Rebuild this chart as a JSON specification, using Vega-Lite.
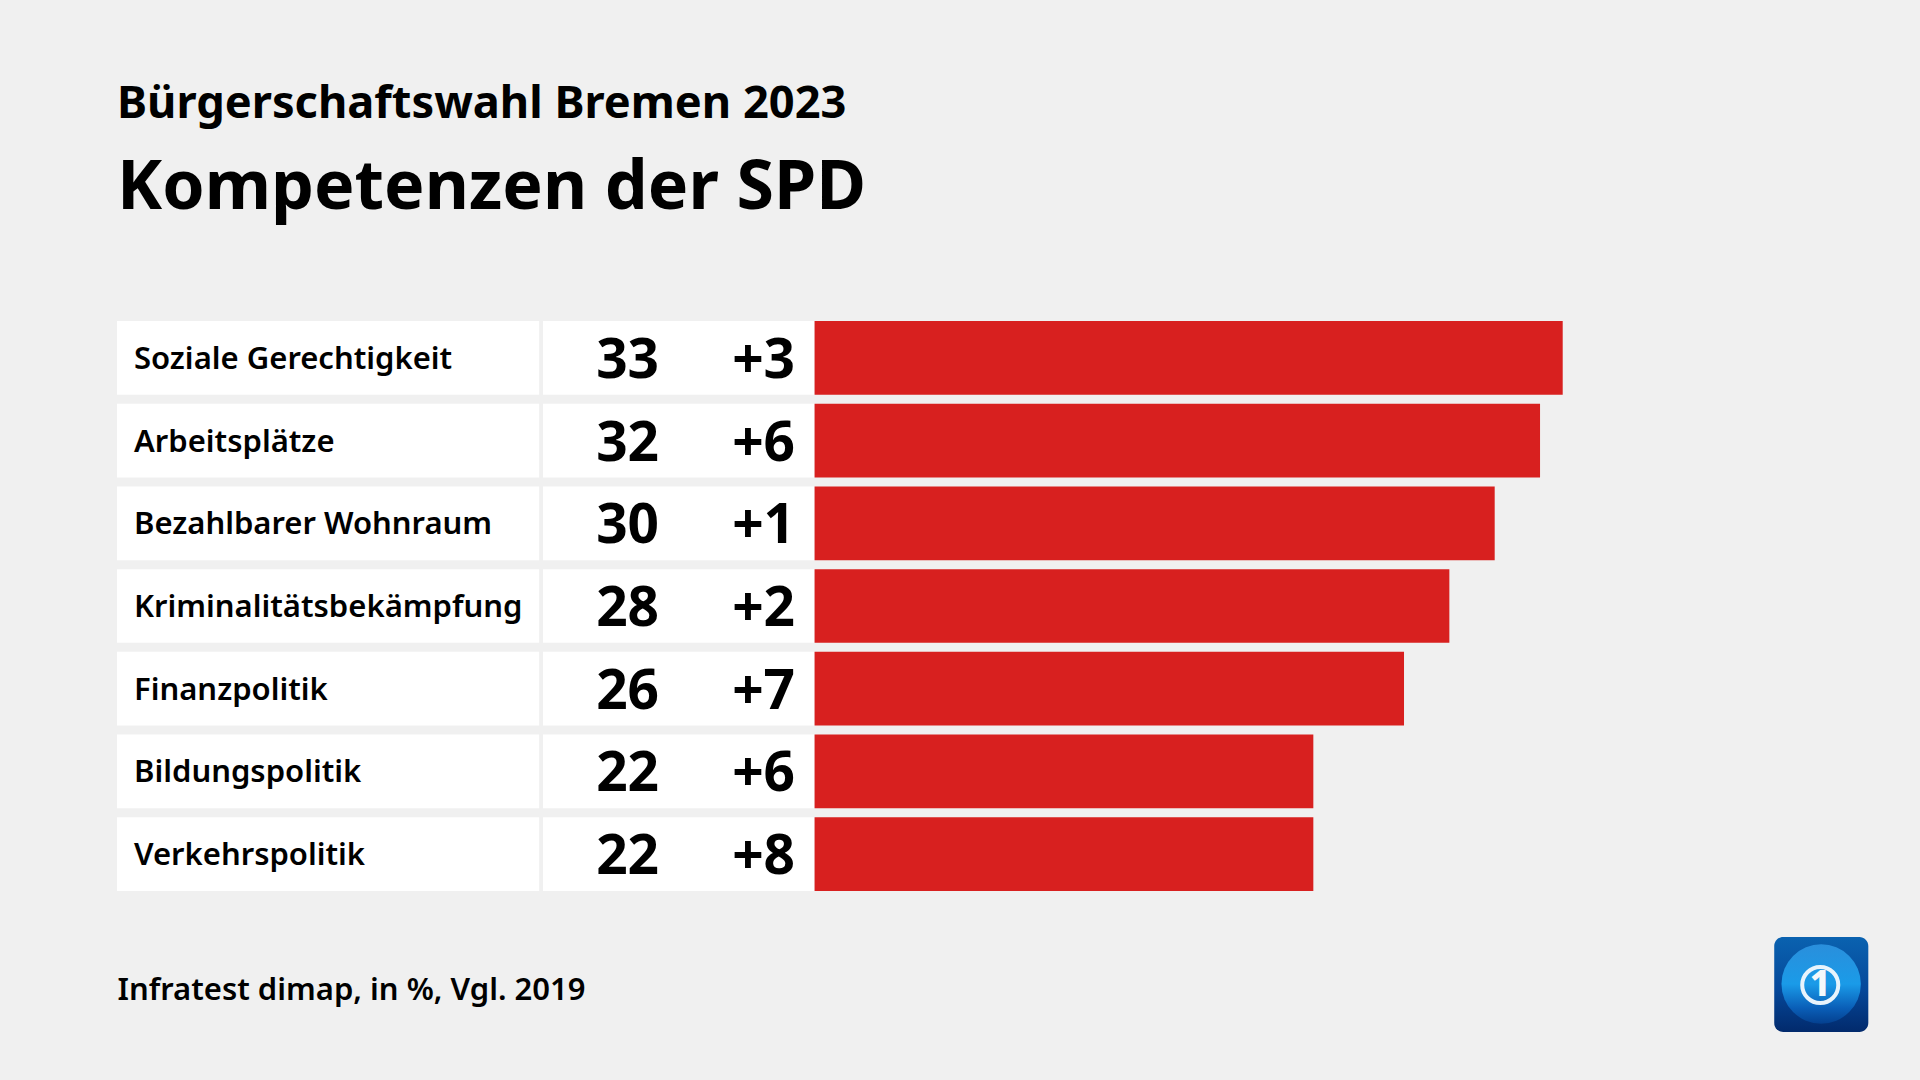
{
"$schema":"https://vega.github.io/schema/vega-lite/v6.json",
"autosize":{"type":"none"},
"padding":{"left":117,"top":321,"right":0,"bottom":189},
"width":1803,"height":570,
"background":"#f0f0f0",
"config":{"view":{"stroke":null},"font":"Noto Sans"},
"title":{"text":"Bürgerschaftswahl Bremen 2023","subtitle":"Kompetenzen der SPD","anchor":"start","frame":"group","font":"Noto Sans","fontSize":45.2,"fontWeight":700,"color":"#000000","subtitleFont":"Noto Sans","subtitleFontSize":68,"subtitleFontWeight":700,"subtitleColor":"#000000","subtitlePadding":28,"offset":98},
"datasets":{"rows":[
{"thema":"Soziale Gerechtigkeit","anteil":33,"vergleich":"+3"},
{"thema":"Arbeitsplätze","anteil":32,"vergleich":"+6"},
{"thema":"Bezahlbarer Wohnraum","anteil":30,"vergleich":"+1"},
{"thema":"Kriminalitätsbekämpfung","anteil":28,"vergleich":"+2"},
{"thema":"Finanzpolitik","anteil":26,"vergleich":"+7"},
{"thema":"Bildungspolitik","anteil":22,"vergleich":"+6"},
{"thema":"Verkehrspolitik","anteil":22,"vergleich":"+8"}
],"logo":[{"logo":"tagesschau"}]},
"resolve":{"scale":{"y":"independent"}},
"layer":[
{"data":{"name":"rows"},
 "encoding":{"y":{"field":"thema","type":"nominal","sort":null,"axis":null,"scale":{"paddingInner":0.109,"paddingOuter":0}}},
 "layer":[
 {"mark":{"type":"bar","color":"#ffffff"},"encoding":{"x":{"datum":-30.77,"type":"quantitative","scale":{"domain":[-30.77,48.76],"nice":false,"zero":false},"axis":{"title":"Infratest dimap, in %, Vgl. 2019","domain":false,"ticks":false,"labels":false,"grid":false,"titleFont":"Noto Sans","titleFontSize":31,"titleFontWeight":600,"titleColor":"#000000","titleAnchor":"start","titleAlign":"left","titleBaseline":"middle","titleX":0,"titleY":99}},"x2":{"datum":-12.15}}},
 {"mark":{"type":"bar","color":"#ffffff"},"encoding":{"x":{"datum":-11.98,"type":"quantitative","scale":{"domain":[-30.77,48.76],"nice":false,"zero":false}},"x2":{"datum":0}}},
 {"mark":{"type":"bar","color":"#d8201f"},"encoding":{"x":{"field":"anteil","type":"quantitative","stack":null,"scale":{"domain":[-30.77,48.76],"nice":false,"zero":false}},"x2":{"datum":0}}},
 {"mark":{"type":"text","align":"left","baseline":"middle","dy":2,"fontSize":31,"fontWeight":600,"color":"#000000"},"encoding":{"x":{"datum":-30.02,"type":"quantitative","scale":{"domain":[-30.77,48.76],"nice":false,"zero":false}},"text":{"field":"thema"}}},
 {"mark":{"type":"text","align":"right","baseline":"middle","dy":3,"fontSize":55,"fontWeight":700,"color":"#000000"},"encoding":{"x":{"datum":-6.86,"type":"quantitative","scale":{"domain":[-30.77,48.76],"nice":false,"zero":false}},"text":{"field":"anteil"}}},
 {"mark":{"type":"text","align":"right","baseline":"middle","dy":3,"fontSize":55,"fontWeight":700,"color":"#000000"},"encoding":{"x":{"datum":-0.86,"type":"quantitative","scale":{"domain":[-30.77,48.76],"nice":false,"zero":false}},"text":{"field":"vergleich"}}}
 ]},
{"data":{"name":"logo"},
 "layer":[
 {"mark":{"type":"rect","cornerRadius":9,"fill":{"gradient":"linear","x1":0,"y1":0,"x2":0,"y2":1,"stops":[{"offset":0,"color":"#0a62b0"},{"offset":0.55,"color":"#05489a"},{"offset":1,"color":"#022a6c"}]}},
  "encoding":{"x":{"datum":42.33,"type":"quantitative","scale":{"domain":[-30.77,48.76],"nice":false,"zero":false}},"x2":{"datum":46.48},"y":{"datum":937,"type":"quantitative","scale":{"domain":[321,891],"reverse":true,"nice":false,"zero":false},"axis":null},"y2":{"datum":1032}}},
 {"mark":{"type":"point","shape":"circle","filled":true,"size":6300,"opacity":1,"fill":{"gradient":"linear","x1":0.5,"y1":0,"x2":0.5,"y2":1,"stops":[{"offset":0,"color":"#2a8fdc"},{"offset":0.5,"color":"#1a9be8"},{"offset":0.8,"color":"#0a5fb8"},{"offset":1,"color":"#04408f"}]}},
  "encoding":{"x":{"datum":44.4,"type":"quantitative","scale":{"domain":[-30.77,48.76],"nice":false,"zero":false}},"y":{"datum":984,"type":"quantitative","scale":{"domain":[321,891],"reverse":true,"nice":false,"zero":false},"axis":null}}},
 {"mark":{"type":"point","shape":"circle","filled":false,"size":1300,"opacity":1,"stroke":"#e8f4fc","strokeWidth":4},
  "encoding":{"x":{"datum":44.36,"type":"quantitative","scale":{"domain":[-30.77,48.76],"nice":false,"zero":false}},"y":{"datum":985,"type":"quantitative","scale":{"domain":[321,891],"reverse":true,"nice":false,"zero":false},"axis":null}}},
 {"mark":{"type":"text","align":"center","baseline":"middle","fontSize":36,"fontWeight":800,"font":"Noto Sans","color":"#f4f8fb"},
  "encoding":{"x":{"datum":44.36,"type":"quantitative","scale":{"domain":[-30.77,48.76],"nice":false,"zero":false}},"y":{"datum":985,"type":"quantitative","scale":{"domain":[321,891],"reverse":true,"nice":false,"zero":false},"axis":null},"text":{"value":"1"}}}
 ]}
]
}
